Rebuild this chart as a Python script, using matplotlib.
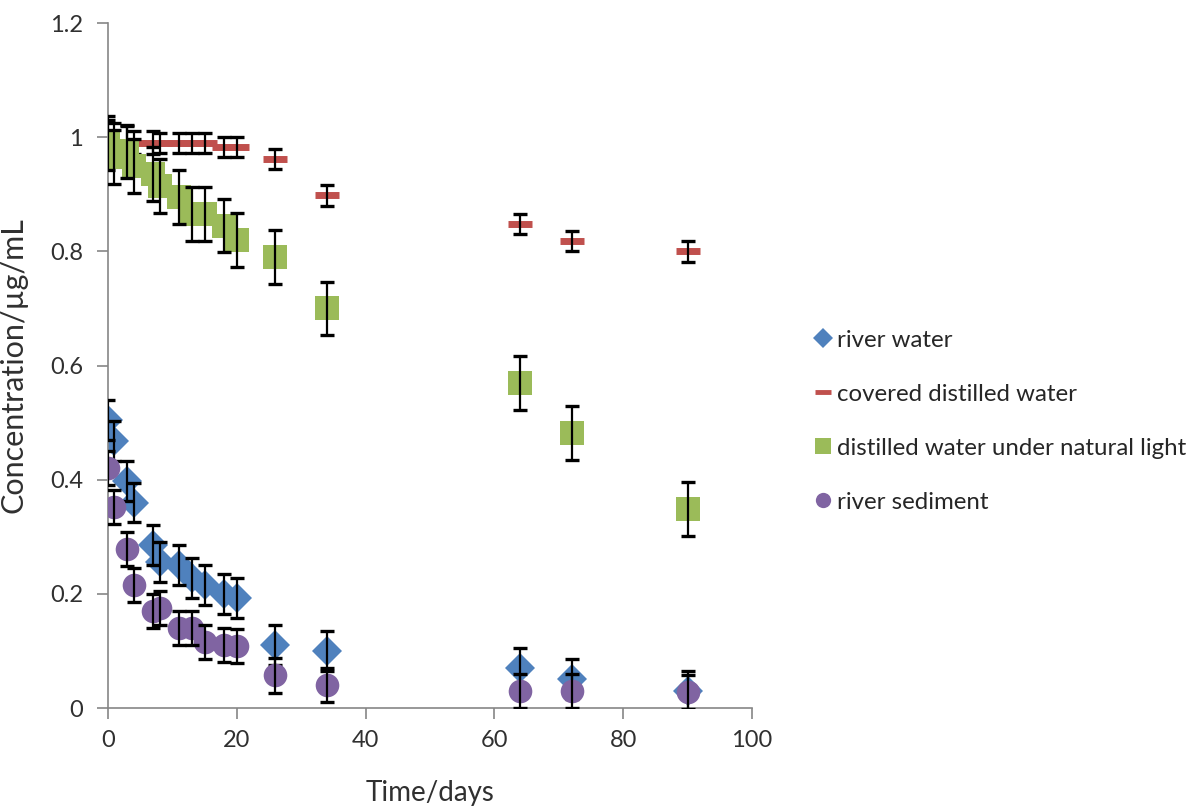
import numpy as np
import matplotlib.pyplot as plt
from matplotlib.lines import Line2D

# sampling days (same for all series)
days = [0, 1, 3, 4, 7, 8, 11, 13, 15, 18, 20, 26, 34, 64, 72, 90]

river_water = [0.505, 0.468, 0.398, 0.36, 0.285, 0.255, 0.25, 0.228, 0.215,
               0.2, 0.192, 0.11, 0.1, 0.07, 0.05, 0.03]
river_water_err = [0.035] * 16

covered = [0.99, 0.99, 0.99, 0.99, 0.99, 0.99, 0.99, 0.99, 0.99,
           0.983, 0.983, 0.962, 0.898, 0.848, 0.818, 0.80]
covered_err = [0.04, 0.035, 0.03, 0.02, 0.02, 0.018, 0.018, 0.018, 0.018,
               0.018, 0.018, 0.018, 0.018, 0.018, 0.018, 0.018]

natural_light = [0.99, 0.965, 0.975, 0.95, 0.935, 0.915, 0.895, 0.865, 0.865,
                 0.845, 0.82, 0.79, 0.70, 0.569, 0.482, 0.349]
natural_light_err = [0.047] * 16

sediment = [0.42, 0.352, 0.278, 0.216, 0.17, 0.175, 0.14, 0.14, 0.115,
            0.11, 0.108, 0.057, 0.04, 0.03, 0.03, 0.028]
sediment_err = [0.03] * 16

series = [
    ("river water", river_water, river_water_err, "#4F81BD", "D", 15),
    ("covered distilled water", covered, covered_err, "#C0504D", "_", 17),
    ("distilled water under natural light", natural_light, natural_light_err, "#9BBB59", "s", 17),
    ("river sediment", sediment, sediment_err, "#8064A2", "o", 17),
]

plt.rcParams['font.family'] = ['Lato', 'DejaVu Sans']

fig = plt.figure(figsize=(12.04, 8.11), dpi=100)
ax = fig.add_axes([0.0897, 0.127, 0.535, 0.8446])

handles = []
for i, (label, vals, err, color, marker, ms) in enumerate(series):
    mew = 5 if marker == "_" else 0
    ax.plot(days, vals, linestyle="none", marker=marker, markersize=ms,
            color=color, markeredgewidth=mew, zorder=2 + 2 * i)
    ax.errorbar(days, vals, yerr=err, fmt="none", ecolor="black",
                elinewidth=1.6, capsize=5, capthick=2.4, zorder=3 + 2 * i)
    handles.append(Line2D([], [], linestyle="none", marker=marker, color=color,
                          markersize=11 if marker != "D" else 10,
                          markeredgewidth=3.5 if marker == "_" else 0,
                          label=label))

ax.set_xlim(0, 100)
ax.set_ylim(0, 1.2)
ax.set_xticks(np.arange(0, 101, 20))
ax.set_yticks(np.arange(0, 1.21, 0.2))
ax.set_yticklabels(["0", "0.2", "0.4", "0.6", "0.8", "1", "1.2"])

for s in ["top", "right"]:
    ax.spines[s].set_visible(False)
for s in ["left", "bottom"]:
    ax.spines[s].set_color("#868686")
    ax.spines[s].set_linewidth(1.2)
ax.tick_params(axis="both", colors="#868686", labelcolor="#303030",
               labelsize=17, length=8, width=1.2)
ax.tick_params(axis="x", pad=8)
ax.tick_params(axis="y", pad=10)

ax.set_xlabel("Time/days", fontsize=20, color="#303030")
ax.xaxis.set_label_coords(0.5, -0.105)
ax.set_ylabel("Concentration/µg/mL", fontsize=22, color="#303030")
ax.yaxis.set_label_coords(-0.125, 0.5)

fig.legend(handles=handles, loc="upper left", bbox_to_anchor=(0.66, 0.62),
           frameon=False, fontsize=17.3, handlelength=0.6, handletextpad=0.25,
           labelspacing=1.37, labelcolor="#262626")

fig.savefig("out.png", dpi=100)
